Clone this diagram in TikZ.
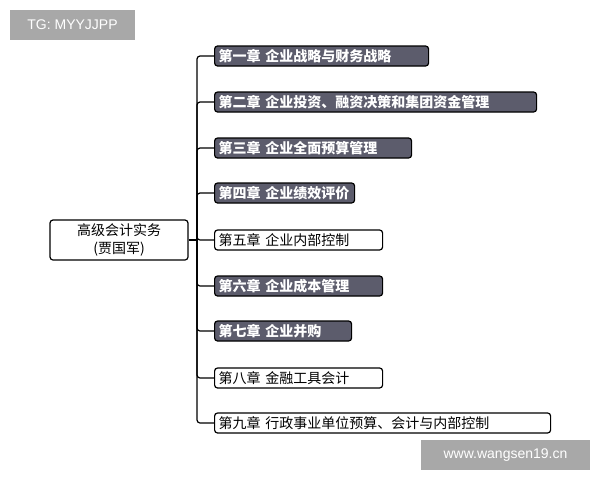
\documentclass[tikz,border=0pt]{standalone}
\usepackage{fontspec}
\setmainfont{Noto Sans CJK SC}
\newfontfamily\lat{Liberation Sans}
\definecolor{dk}{HTML}{5C5C6C}
\definecolor{wm}{HTML}{A8A8A8}
\begin{document}
\begin{tikzpicture}[x=1pt,y=-1pt,
  ch/.style={draw=black,line width=1.2pt,rounded corners=3pt,minimum height=20pt,anchor=west,inner xsep=4pt,inner ysep=0pt,text width=#1-8pt,align=left},
  dark/.style={ch=#1,fill=dk,text=white,font=\fontsize{14}{15}\selectfont\bfseries},
  light/.style={ch=#1,fill=white,text=black,font=\fontsize{14}{15}\selectfont},
  ln/.style={line width=1.2pt},
  wmk/.style={fill=wm,text=white,inner sep=0pt,font=\lat\fontsize{14}{16}\selectfont}]
\useasboundingbox (0,0) rectangle (600,480);
\node[wmk,minimum width=125pt,minimum height=30pt] (tg) at (72.5,25) {TG: MYYJJPP};
\node[wmk,minimum width=169pt,minimum height=30pt] (ws) at (505.5,455) {www.wangsen19.cn};
\node[draw,line width=1.2pt,rounded corners=3pt,minimum width=138pt,minimum height=40pt,align=center,font=\fontsize{14}{18}\selectfont] (root) at (119,240) {高级会计实务\\(贾国军)};
\node[dark=214pt] (c1) at (214,56) {第一章 企业战略与财务战略};
\node[dark=322pt] (c2) at (214,102) {第二章 企业投资、融资决策和集团资金管理};
\node[dark=197pt] (c3) at (214,148) {第三章 企业全面预算管理};
\node[dark=140pt] (c4) at (214,193) {第四章 企业绩效评价};
\node[light=168pt] (c5) at (214,240) {第五章 企业内部控制};
\node[dark=168pt] (c6) at (214,286) {第六章 企业成本管理};
\node[dark=137pt] (c7) at (214,331) {第七章 企业并购};
\node[light=168pt] (c8) at (214,378) {第八章 金融工具会计};
\node[light=336pt] (c9) at (214,423) {第九章 行政事业单位预算、会计与内部控制};
\coordinate (j) at (197,240);
\draw[ln] (root.east) -- (j);
\foreach \c in {c1,c2,c3,c4,c5,c6,c7,c8,c9}
  \draw[ln,rounded corners=3pt] (j) -- (j |- \c.west) -- (\c.west);
\end{tikzpicture}
\end{document}
